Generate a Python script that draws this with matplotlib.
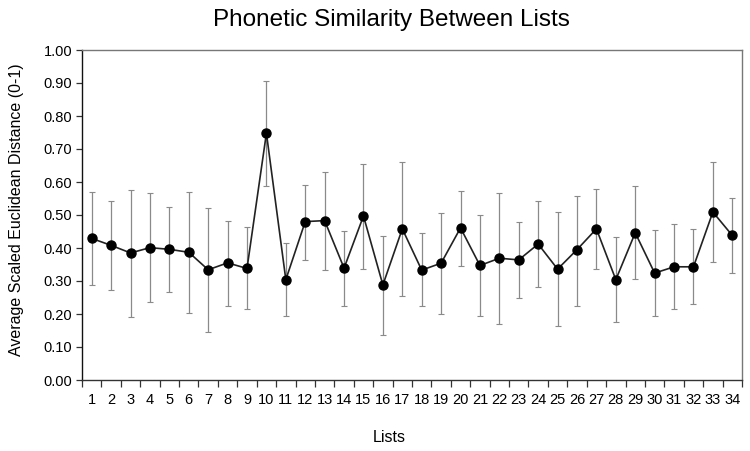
import matplotlib
matplotlib.use("Agg")
import matplotlib.pyplot as plt
import numpy as np

plt.rcParams['font.family'] = ['Liberation Sans', 'DejaVu Sans']

lists = list(range(1, 35))
means = [0.429, 0.408, 0.385, 0.401, 0.396, 0.387, 0.334, 0.355, 0.338, 0.748,
         0.304, 0.480, 0.483, 0.339, 0.497, 0.288, 0.458, 0.333, 0.354, 0.461,
         0.347, 0.369, 0.364, 0.412, 0.336, 0.395, 0.458, 0.304, 0.446, 0.324,
         0.343, 0.343, 0.509, 0.438]
upper = [0.571, 0.543, 0.577, 0.567, 0.523, 0.571, 0.520, 0.481, 0.464, 0.906,
         0.414, 0.592, 0.631, 0.453, 0.656, 0.437, 0.660, 0.446, 0.505, 0.573,
         0.499, 0.567, 0.479, 0.541, 0.509, 0.559, 0.580, 0.432, 0.587, 0.455,
         0.474, 0.457, 0.660, 0.552]
lower = [0.288, 0.273, 0.192, 0.236, 0.268, 0.202, 0.146, 0.225, 0.216, 0.588,
         0.195, 0.364, 0.333, 0.225, 0.337, 0.135, 0.255, 0.223, 0.200, 0.346,
         0.194, 0.170, 0.249, 0.282, 0.163, 0.225, 0.337, 0.175, 0.306, 0.193,
         0.214, 0.230, 0.357, 0.324]
yticks = [0.0, 0.1, 0.2, 0.3, 0.4, 0.5, 0.6, 0.7, 0.8, 0.9, 1.0]

x = np.array(lists)
m = np.array(means)
err = [m - np.array(lower), np.array(upper) - m]

fig = plt.figure(figsize=(7.5, 4.51), dpi=100)
ax = fig.add_axes([82/750, 1-380/451, 660/750, 330/451])

ax.errorbar(x, m, yerr=err, fmt='none', ecolor='#8a8a8a', elinewidth=0.9,
            capsize=2, capthick=0.8, zorder=2)
ax.plot(x, m, color='#222222', linewidth=1.2, marker='o', markersize=6.5,
        markerfacecolor='black', markeredgecolor='black', zorder=3)

ax.set_xlim(0.5, 34.5)
ax.set_ylim(0, 1.0)
ax.set_yticks(yticks)
ax.set_yticklabels([f"{v:.2f}" for v in yticks], fontsize=10.5)
ax.set_xticks(np.arange(0.5, 35.0, 1.0))
ax.set_xticklabels([])
ax.set_xticks(x, minor=True)
ax.set_xticklabels([str(v) for v in lists], minor=True, fontsize=10.5)
ax.tick_params(axis='x', which='major', length=5, width=0.9, direction='out', color='#333333')
ax.tick_params(axis='x', which='minor', length=0, pad=9)
ax.tick_params(axis='y', length=4, width=0.9, direction='out', color='#333333', pad=3)

ax.spines['left'].set_color('#111111')
ax.spines['bottom'].set_color('#333333')
ax.spines['top'].set_color('#777777')
ax.spines['right'].set_color('#777777')
for s in ax.spines.values():
    s.set_linewidth(1.0)

fig.text(391/750, 1-20/451, "Phonetic Similarity Between Lists", ha='center', va='center', fontsize=17.5)
fig.text(389/750, 1-437/451, "Lists", ha='center', va='center', fontsize=11.5)
fig.text(17/750, 1-210/451, "Average Scaled Euclidean Distance (0-1)", ha='center', va='center',
         rotation=90, fontsize=11.5)

fig.savefig("out.png", dpi=100)
